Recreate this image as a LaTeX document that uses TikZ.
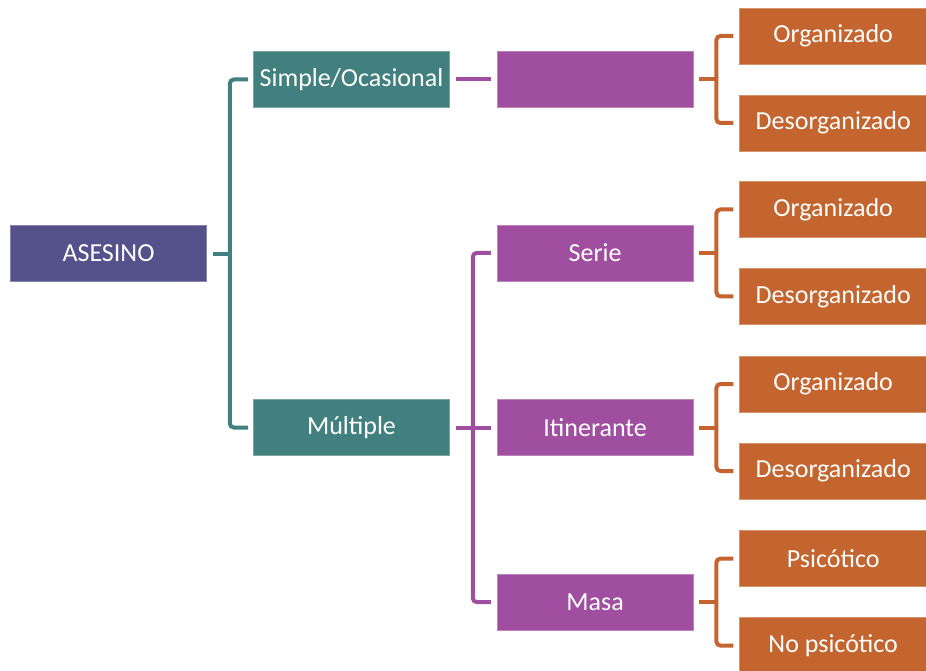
\documentclass[tikz,border=0pt]{standalone}
\usepackage{fontspec}
\setmainfont{Carlito}
\usetikzlibrary{positioning}
\definecolor{killer}{HTML}{55518A}
\definecolor{tealc}{HTML}{42807F}
\definecolor{purp}{HTML}{A04EA0}
\definecolor{oran}{HTML}{C4642E}
\tikzset{%
  box/.style={fill=#1,draw=#1!70!white,line width=.6pt,text=white,
    minimum width=196pt,minimum height=56pt,inner sep=2pt,
    font=\fontsize{26}{30}\selectfont},
  leaf/.style={box=oran,minimum width=187pt},
  link/.style={draw=#1,line width=4pt,rounded corners=4pt}
}
\begin{document}
\begin{tikzpicture}[x=1pt,y=-1pt]
  \useasboundingbox (0,0) rectangle (926,671);
  \node [box=killer] (asesino) at (108.5,253.5) {ASESINO};
  \node [box=tealc] (simple) at (351.5,79.5) {Simple/Ocasional};
  \node [box=tealc] (multiple) at (351.5,427.5) {Múltiple};

  \node [box=purp,right=47pt of simple] (ocas) {};
  \node [box=purp,right=47pt of multiple] (itin) {Itinerante};
  \node [box=purp,above=118pt of itin] (serie) {Serie};
  \node [box=purp,below=118pt of itin] (masa) {Masa};

  \node [leaf,right=46pt of ocas,yshift=43.5pt] (o1) {Organizado};
  \node [leaf,right=46pt of ocas,yshift=-43.5pt] (o2) {Desorganizado};
  \node [leaf,right=46pt of serie,yshift=43.5pt] (o3) {Organizado};
  \node [leaf,right=46pt of serie,yshift=-43.5pt] (o4) {Desorganizado};
  \node [leaf,right=46pt of itin,yshift=43.5pt] (o5) {Organizado};
  \node [leaf,right=46pt of itin,yshift=-43.5pt] (o6) {Desorganizado};
  \node [leaf,right=46pt of masa,yshift=43.5pt] (o7) {Psicótico};
  \node [leaf,right=46pt of masa,yshift=-43.5pt] (o8) {No psicótico};

  \coordinate (t) at ([xshift=23pt]asesino.east);
  \draw [link=tealc] ([xshift=6pt]asesino.east) -- (t);
  \draw [link=tealc] ([xshift=-5pt]simple.west) -| (t) |- ([xshift=-5pt]multiple.west);

  \draw [link=purp] ([xshift=6pt]simple.east) -- ([xshift=-6pt]ocas.west);
  \draw [link=purp] ([xshift=6pt]multiple.east) -- ([xshift=-6pt]itin.west);
  \coordinate (p) at ([xshift=23pt]multiple.east);
  \draw [link=purp] ([xshift=-6pt]serie.west) -| (p) |- ([xshift=-6pt]masa.west);

  \foreach \a/\b/\c in {ocas/o1/o2,serie/o3/o4,itin/o5/o6,masa/o7/o8} {
    \coordinate (q) at ([xshift=23pt]\a.east);
    \draw [link=oran] ([xshift=6pt]\a.east) -- (q);
    \draw [link=oran] ([xshift=-6pt]\b.west) -| (q) |- ([xshift=-6pt]\c.west);
  }
\end{tikzpicture}
\end{document}
